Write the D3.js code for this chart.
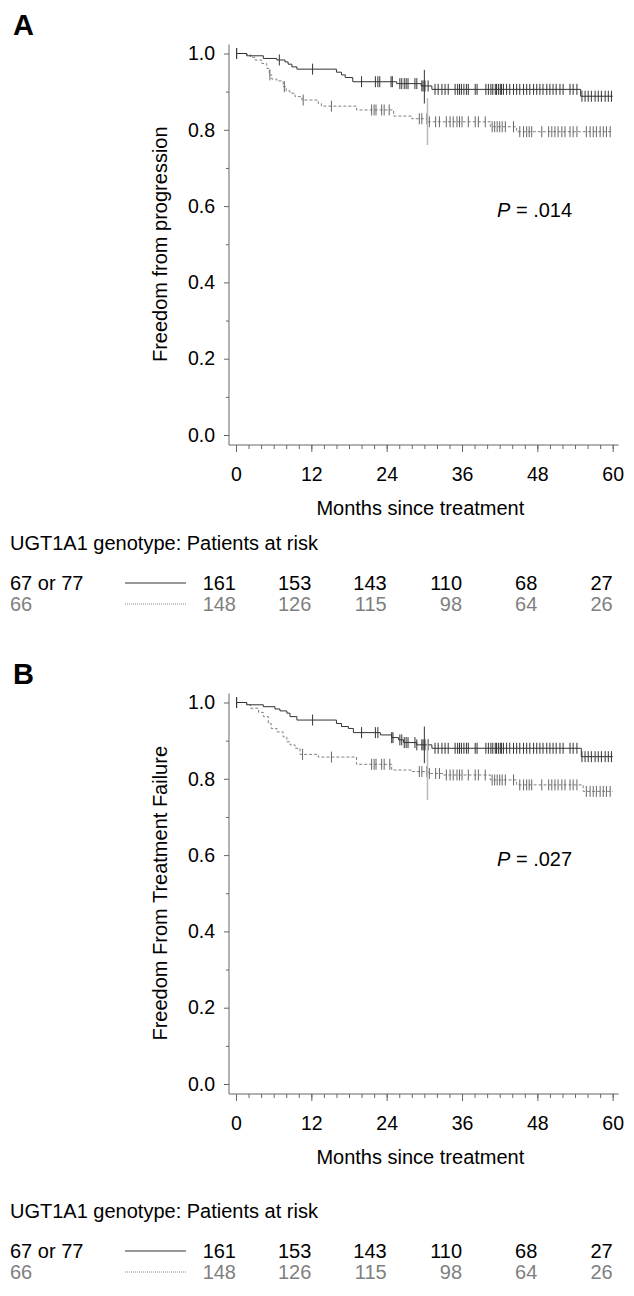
<!DOCTYPE html>
<html>
<head>
<meta charset="utf-8">
<script src="https://cdn.jsdelivr.net/npm/d3@7"></script>
<style>
  body { margin: 0; background: #fff; }
  text { font-family: "Liberation Sans", Arial, Helvetica, sans-serif; }
</style>
</head>
<body>
<svg id="chart" width="634" height="1296"></svg>
<script>
// ----- data -----
const xTickMonths = [0, 12, 24, 36, 48, 60];
const yTickValues = [0, 0.2, 0.4, 0.6, 0.8, 1.0];
const groupNames = ["67 or 77", "66"];
const atRisk67 = [161, 153, 143, 110, 68, 27];
const atRisk66 = [148, 126, 115, 98, 64, 26];

// panel A - freedom from progression
const aSolidTime = [0, 1.7, 4.35, 6.5, 7.8, 8.3, 8.9, 9.7, 16.0, 16.8, 17.4, 18.6, 25.6, 29.5, 31.2, 54.9];
const aSolidSurv = [1.0, 0.994, 0.987, 0.983, 0.978, 0.972, 0.965, 0.959, 0.951, 0.944, 0.937, 0.926, 0.921, 0.915, 0.906, 0.888];
const aDashTime = [0, 1.7, 2.3, 3.0, 4.1, 4.9, 5.3, 5.7, 6.5, 7.5, 8.0, 8.6, 9.4, 10.5, 13.1, 13.6, 19.2, 25.1, 28.0, 30.6, 40.5, 44.7];
const aDashSurv = [1.0, 0.997, 0.990, 0.983, 0.974, 0.961, 0.944, 0.933, 0.928, 0.913, 0.902, 0.896, 0.887, 0.878, 0.869, 0.862, 0.852, 0.836, 0.829, 0.821, 0.808, 0.795];
const aSolidCens = [0.1, 6.9, 12.2, 20.0, 22.2, 22.6, 22.9, 24.7, 24.9, 26.1, 26.4, 26.8, 27.1, 27.4, 28.5, 28.8, 29.6, 29.8, 30.1,
  30.6, 31.7, 32.2, 32.8, 33.3, 33.8, 34.9, 35.3, 35.6, 35.9, 36.3, 36.7, 37.0, 38.1, 38.4, 39.8, 40.2, 40.6, 40.9, 41.3,
  41.5, 41.8, 42.1, 42.3, 42.6, 43.1, 43.6, 44.2, 44.7, 45.2, 45.8, 46.3, 46.8, 47.4, 47.9, 48.4, 48.9, 49.5, 50.0, 50.5,
  51.0, 51.6, 52.1, 53.2, 53.7, 54.3, 55.1, 55.6, 56.1, 56.6, 57.2, 57.7, 58.2, 58.8, 59.3, 59.8];
const aDashCens = [0.1, 5.4, 7.7, 10.7, 15.2, 21.6, 22.0, 22.3, 23.2, 23.6, 24.4, 29.2, 29.6, 30.4, 30.8, 31.8, 32.4, 33.5, 34.1,
  34.6, 35.2, 35.6, 36.0, 37.0, 38.1, 38.6, 39.7, 40.8, 41.2, 41.6, 42.0, 42.4, 42.9, 44.2, 45.2, 45.8, 46.3, 46.7, 47.1,
  48.7, 49.8, 50.3, 50.8, 51.3, 51.9, 52.4, 53.2, 53.7, 54.3, 55.8, 56.4, 56.9, 57.4, 58.0, 58.5, 59.0, 59.6];
const aCiMonth = [30.0, 30.5];
const aCiLow = [0.869, 0.760];
const aCiHigh = [0.957, 0.883];

// panel B - freedom from treatment failure
const bSolidTime = [0, 1.7, 4.35, 6.2, 7.0, 8.1, 8.6, 9.7, 16.0, 16.8, 17.9, 18.7, 23.0, 24.8, 25.9, 26.7, 28.8, 31.2, 55.0];
const bSolidSurv = [1.0, 0.994, 0.989, 0.983, 0.978, 0.972, 0.963, 0.954, 0.945, 0.937, 0.932, 0.921, 0.915, 0.908, 0.902, 0.895, 0.889, 0.880, 0.858];
const bDashTime = [0, 1.7, 2.3, 3.6, 4.35, 5.15, 5.6, 6.5, 7.5, 8.1, 8.6, 9.4, 10.2, 13.1, 19.2, 24.8, 28.0, 30.6, 33.0, 40.5, 44.7, 55.3];
const bDashSurv = [1.0, 0.994, 0.985, 0.974, 0.963, 0.945, 0.932, 0.923, 0.910, 0.897, 0.889, 0.880, 0.864, 0.857, 0.838, 0.823, 0.819, 0.814, 0.810, 0.797, 0.784, 0.767];
const bSolidCens = [0.1, 12.2, 20.0, 22.2, 22.6, 24.8, 25.0, 26.1, 26.4, 26.8, 27.1, 27.4, 28.5, 28.8, 29.6, 29.8, 30.1,
  30.6, 31.7, 32.2, 32.8, 33.3, 33.8, 34.9, 35.3, 35.6, 35.9, 36.3, 36.7, 37.0, 38.1, 38.4, 39.8, 40.2, 40.6, 40.9, 41.3,
  41.5, 41.8, 42.1, 42.3, 42.6, 43.1, 43.6, 44.2, 44.7, 45.2, 45.8, 46.3, 46.8, 47.4, 47.9, 48.4, 48.9, 49.5, 50.0, 50.5,
  51.0, 51.6, 52.1, 53.2, 53.7, 54.3, 55.1, 55.6, 56.1, 56.6, 57.2, 57.7, 58.2, 58.8, 59.3, 59.8];
const bDashCens = [0.1, 10.6, 15.2, 21.6, 22.0, 22.3, 23.2, 23.6, 24.5, 29.2, 29.6, 30.4, 30.8, 31.8, 32.4, 33.5, 34.1,
  34.6, 35.2, 35.6, 36.0, 37.0, 38.1, 38.6, 39.7, 40.8, 41.2, 41.6, 42.0, 42.4, 42.9, 44.2, 45.2, 45.8, 46.3, 46.7, 47.1,
  48.7, 49.8, 50.3, 50.8, 51.3, 51.9, 52.4, 53.2, 53.7, 54.3, 55.8, 56.4, 56.9, 57.4, 58.0, 58.5, 59.0, 59.6];
const bCiMonth = [30.0, 30.5];
const bCiLow = [0.841, 0.744];
const bCiHigh = [0.937, 0.897];

// ----- drawing -----
const svg = d3.select("svg#chart");
const FONT = 20, TICKFONT = 19.5;
const solidCol = "#333", dashCol = "#808080", dashCensCol = "#666", greyText = "#7f7f7f";

const x = d3.scaleLinear().domain([0, 60]).range([236, 612.7]);

function survAt(times, survs, t) {
  const i = d3.bisectRight(times, t) - 1;
  return survs[Math.max(0, i)];
}

function drawPanel(p) {
  const g = svg.append("g").attr("transform", `translate(0,${p.dy})`);
  const y = d3.scaleLinear().domain([0, 1]).range([435, 53.5]);
  const axisX = 229, axisY = 445;

  // panel letter
  g.append("text").attr("x", 13).attr("y", 35)
    .attr("font-size", 29).attr("font-weight", "bold").text(p.letter);

  // axis lines
  g.append("line").attr("x1", axisX).attr("x2", axisX)
    .attr("y1", y(1) - 9).attr("y2", axisY).attr("stroke", "#666");
  g.append("line").attr("x1", axisX).attr("x2", x(60) + 6)
    .attr("y1", axisY).attr("y2", axisY).attr("stroke", "#666");

  // y ticks
  const yMinor = d3.axisLeft(y).tickValues(d3.range(0.1, 1, 0.2)).tickSize(3).tickFormat("");
  const yMajor = d3.axisLeft(y).tickValues(yTickValues).tickSize(5).tickPadding(9).tickFormat(d3.format(".1f"));
  [yMinor, yMajor].forEach(ax => {
    const a = g.append("g").attr("transform", `translate(${axisX},0)`).call(ax);
    a.select(".domain").remove();
    a.selectAll("line").attr("stroke", "#666");
    a.selectAll("text").attr("font-size", TICKFONT).attr("fill", "#000")
      .attr("font-family", '"Liberation Sans", Arial, sans-serif');
  });

  // x ticks
  const xMinor = d3.axisBottom(x).tickValues(d3.range(0, 61, 2)).tickSize(4).tickFormat("");
  const xMajor = d3.axisBottom(x).tickValues(xTickMonths).tickSize(7).tickPadding(15).tickFormat(d3.format("d"));
  [xMinor, xMajor].forEach(ax => {
    const a = g.append("g").attr("transform", `translate(0,${axisY})`).call(ax);
    a.select(".domain").remove();
    a.selectAll("line").attr("stroke", "#666");
    a.selectAll("text").attr("font-size", TICKFONT).attr("fill", "#000")
      .attr("font-family", '"Liberation Sans", Arial, sans-serif');
  });

  // axis titles
  g.append("text").attr("x", (x(0) + x(60)) / 2 - 4).attr("y", 515)
    .attr("text-anchor", "middle").attr("font-size", FONT).text("Months since treatment");
  g.append("text")
    .attr("transform", `translate(167,${(y(0) + y(1)) / 2}) rotate(-90)`)
    .attr("text-anchor", "middle").attr("font-size", FONT).text(p.yTitle);

  // p value
  const pt = g.append("text").attr("x", 497).attr("y", 217).attr("font-size", FONT);
  pt.append("tspan").attr("font-style", "italic").text("P");
  pt.append("tspan").text(" = " + p.pValue);

  // curves
  const line = d3.line().x(d => x(d[0])).y(d => y(d[1])).curve(d3.curveStepAfter);
  const mk = (t, s) => t.map((v, i) => [v, s[i]]).concat([[x.domain()[1], s[s.length - 1]]]);

  g.append("path").datum(mk(p.dashT, p.dashS)).attr("d", line)
    .attr("fill", "none").attr("stroke", dashCol).attr("stroke-dasharray", "3,2");
  g.append("path").datum(mk(p.solidT, p.solidS)).attr("d", line)
    .attr("fill", "none").attr("stroke", solidCol);

  // censor marks
  g.selectAll("line.cens-d").data(p.dashC).join("line").attr("class", "cens-d")
    .attr("x1", d => x(d)).attr("x2", d => x(d))
    .attr("y1", d => y(survAt(p.dashT, p.dashS, d)) - 5.5)
    .attr("y2", d => y(survAt(p.dashT, p.dashS, d)) + 5.5)
    .attr("stroke", dashCensCol);
  g.selectAll("line.cens-s").data(p.solidC).join("line").attr("class", "cens-s")
    .attr("x1", d => x(d)).attr("x2", d => x(d))
    .attr("y1", d => y(survAt(p.solidT, p.solidS, d)) - 5.5)
    .attr("y2", d => y(survAt(p.solidT, p.solidS, d)) + 5.5)
    .attr("stroke", solidCol);

  // confidence bars at 30 months
  g.selectAll("line.ci").data(p.ciM).join("line").attr("class", "ci")
    .attr("x1", d => x(d)).attr("x2", d => x(d))
    .attr("y1", (d, i) => y(p.ciLo[i])).attr("y2", (d, i) => y(p.ciHi[i]))
    .attr("stroke", (d, i) => i === 0 ? solidCol : "#bbb").attr("stroke-width", (d, i) => i === 0 ? 1 : 1.5);

  // patients at risk
  const lg = g.append("g").attr("transform", `translate(0,${p.legY})`);
  lg.append("text").attr("x", 10).attr("y", 0).attr("font-size", FONT)
    .text("UGT1A1 genotype: Patients at risk");
  const rows = [{ name: groupNames[0], vals: atRisk67, col: "#000", dash: null, yy: 40 },
                { name: groupNames[1], vals: atRisk66, col: greyText, dash: "1,1", yy: 61 }];
  rows.forEach(r => {
    lg.append("text").attr("x", 10).attr("y", r.yy).attr("font-size", FONT).attr("fill", r.col).text(r.name);
    lg.append("line").attr("x1", 125).attr("x2", 186).attr("y1", r.yy - 7).attr("y2", r.yy - 7)
      .attr("stroke", r.dash ? "#888" : "#333").attr("stroke-dasharray", r.dash);
    lg.selectAll(null).data(r.vals).join("text")
      .attr("x", (d, i) => x(xTickMonths[i])).attr("y", r.yy)
      .attr("text-anchor", "end").attr("font-size", FONT).attr("fill", r.col).text(d => d);
  });
}

drawPanel({
  dy: 0, letter: "A", yTitle: "Freedom from progression", pValue: ".014", legY: 550,
  solidT: aSolidTime, solidS: aSolidSurv, dashT: aDashTime, dashS: aDashSurv,
  solidC: aSolidCens, dashC: aDashCens, ciM: aCiMonth, ciLo: aCiLow, ciHi: aCiHigh
});
drawPanel({
  dy: 649, letter: "B", yTitle: "Freedom From Treatment Failure", pValue: ".027", legY: 1218 - 649,
  solidT: bSolidTime, solidS: bSolidSurv, dashT: bDashTime, dashS: bDashSurv,
  solidC: bSolidCens, dashC: bDashCens, ciM: bCiMonth, ciLo: bCiLow, ciHi: bCiHigh
});
</script>
</body>
</html>
